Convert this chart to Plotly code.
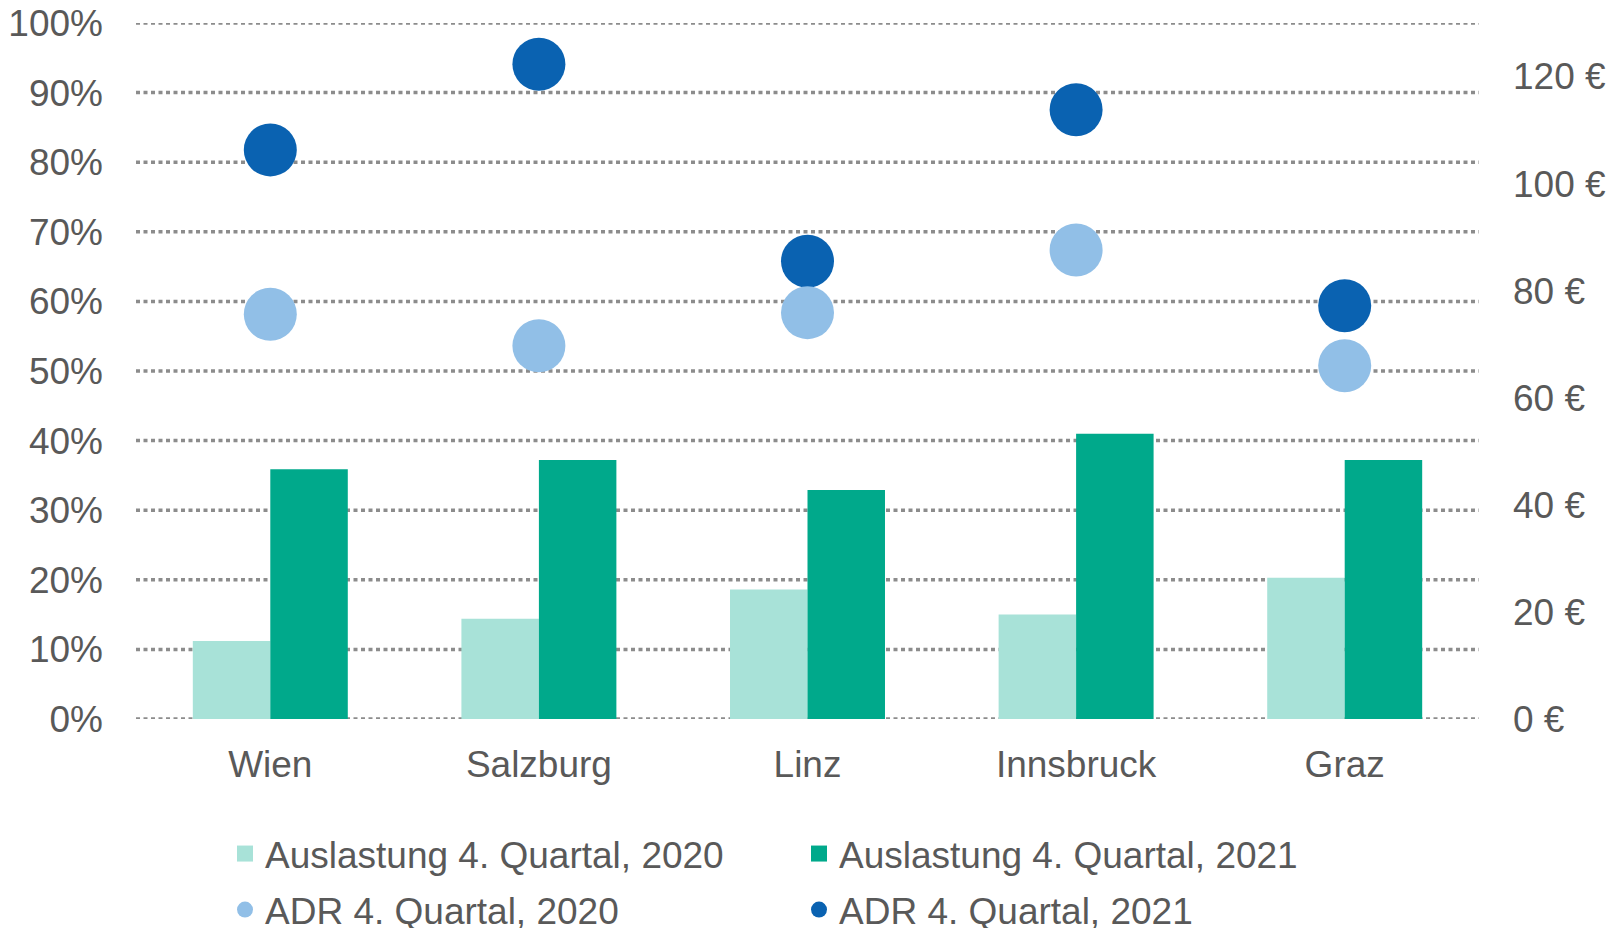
import plotly.graph_objects as go

cities = ["Wien", "Salzburg", "Linz", "Innsbruck", "Graz"]
occ_2020 = [11.2, 14.4, 18.6, 15.0, 20.3]
occ_2021 = [35.9, 37.2, 32.9, 41.0, 37.2]
adr_2020 = [75.6, 69.7, 75.9, 87.6, 66.0]
adr_2021 = [106.3, 122.3, 85.5, 113.8, 77.2]

left_ticks = [0, 10, 20, 30, 40, 50, 60, 70, 80, 90, 100]
right_ticks = [0, 20, 40, 60, 80, 100, 120]

names = ["Auslastung 4. Quartal, 2020", "Auslastung 4. Quartal, 2021",
         "ADR 4. Quartal, 2020", "ADR 4. Quartal, 2021"]

C_OCC20 = "#a8e2d8"
C_OCC21 = "#00a98b"
C_ADR20 = "#91bfe7"
C_ADR21 = "#0a62b1"
TXT = "#595959"
GRID = "#8c8c8c"
FONT = "Liberation Sans, Arial, sans-serif"
FS = 37

# the page body has an 8px margin; the figure is sized so that it fills the window
W, H = 1610, 920

fig = go.Figure()

# dotted gridlines drawn as line shapes in data coords (incl. 0% and 100%)
for v in left_ticks:
    fig.add_shape(type="line", xref="paper", yref="y", x0=0, x1=1, y0=v, y1=v,
                  line=dict(color=GRID, width=3.5, dash="4px,3.5px"), layer="below")

fig.add_trace(go.Bar(x=cities, y=occ_2020, marker=dict(color=C_OCC20, line=dict(width=0)),
                     name=names[0], showlegend=False))
fig.add_trace(go.Bar(x=cities, y=occ_2021, marker=dict(color=C_OCC21, line=dict(width=0)),
                     name=names[1], showlegend=False))
fig.add_trace(go.Scatter(x=cities, y=adr_2021, mode="markers", yaxis="y2",
                         marker=dict(color=C_ADR21, size=53, line=dict(width=0)),
                         name=names[3], showlegend=False))
fig.add_trace(go.Scatter(x=cities, y=adr_2020, mode="markers", yaxis="y2",
                         marker=dict(color=C_ADR20, size=53, line=dict(width=0)),
                         name=names[2], showlegend=False))

# legend entries
for nm, col, sym, lg in [(names[0], C_OCC20, "square", "legend"),
                         (names[1], C_OCC21, "square", "legend"),
                         (names[2], C_ADR20, "circle", "legend2"),
                         (names[3], C_ADR21, "circle", "legend2")]:
    fig.add_trace(go.Scatter(x=[None], y=[None], mode="markers", name=nm, legend=lg,
                             marker=dict(color=col, symbol=sym, size=16, line=dict(width=0))))

fig.update_layout(
    width=W, height=H,
    margin=dict(l=128, r=139, t=15, b=209, autoexpand=False),
    paper_bgcolor="white", plot_bgcolor="white",
    font=dict(family=FONT, size=FS, color=TXT),
    barmode="group", bargap=0.423, bargroupgap=0,
    xaxis=dict(showline=False, ticks="", tickfont=dict(size=FS, color=TXT),
               ticklabelstandoff=20, showgrid=False, automargin=False),
    yaxis=dict(range=[0, 100], tickvals=left_ticks, ticktext=[f"{v}%" for v in left_ticks],
               zeroline=False, showgrid=False, showline=False, ticks="",
               tickfont=dict(size=FS, color=TXT), ticklabelstandoff=32, automargin=False,
               ticklabeloverflow="allow"),
    yaxis2=dict(range=[0, 130], tickvals=right_ticks, ticktext=[f"{v} €" for v in right_ticks],
                overlaying="y", side="right", showgrid=False, zeroline=False, showline=False,
                ticks="", tickfont=dict(size=FS, color=TXT), ticklabelstandoff=33,
                automargin=False, ticklabeloverflow="allow"),
    legend=dict(orientation="h", xref="container", yref="container", x=217 / W,
                y=1 - 846 / H, xanchor="left", yanchor="middle", entrywidth=529,
                entrywidthmode="pixels", font=dict(size=FS, color=TXT),
                bgcolor="rgba(0,0,0,0)", itemclick=False),
    legend2=dict(orientation="h", xref="container", yref="container", x=217 / W,
                 y=1 - 902 / H, xanchor="left", yanchor="middle", entrywidth=529,
                 entrywidthmode="pixels", font=dict(size=FS, color=TXT),
                 bgcolor="rgba(0,0,0,0)", itemclick=False),
)

fig.write_html("out.html")
